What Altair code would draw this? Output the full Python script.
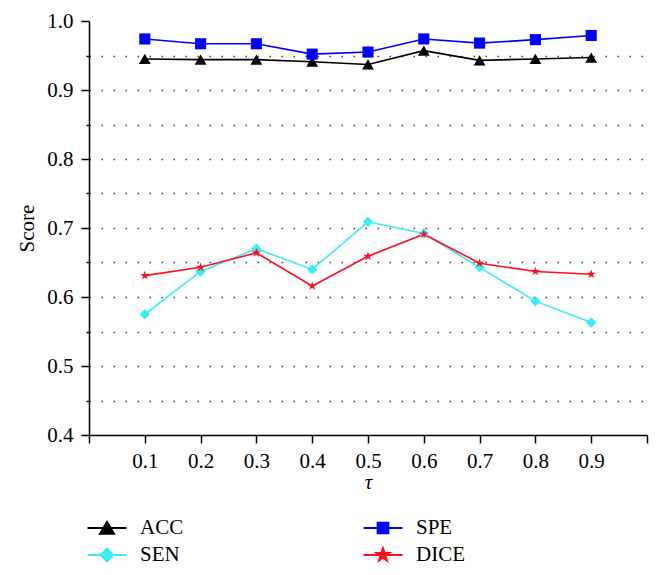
import math
import altair as alt
import pandas as pd

tau = [0.1, 0.2, 0.3, 0.4, 0.5, 0.6, 0.7, 0.8, 0.9]
acc = [0.945, 0.944, 0.944, 0.941, 0.937, 0.957, 0.943, 0.945, 0.947]
spe = [0.974, 0.967, 0.967, 0.952, 0.955, 0.974, 0.968, 0.973, 0.979]
sen = [0.575, 0.637, 0.670, 0.640, 0.709, 0.692, 0.643, 0.594, 0.563]
dice = [0.631, 0.643, 0.664, 0.616, 0.659, 0.691, 0.649, 0.637, 0.633]

series_names = ["ACC", "SPE", "SEN", "DICE"]
series_values = [acc, spe, sen, dice]
colors = ["#000000", "#0000FF", "#38EEF2", "#FF1020"]

x_ticks = [0.0, 0.1, 0.2, 0.3, 0.4, 0.5, 0.6, 0.7, 0.8, 0.9, 1.0]
y_ticks = [0.4, 0.45, 0.5, 0.55, 0.6, 0.65, 0.7, 0.75, 0.8, 0.85, 0.9, 0.95, 1.0]

rows = []
for name, vals in zip(series_names, series_values):
    for t, v in zip(tau, vals):
        rows.append({"tau": t, "score": v, "series": name})
df = pd.DataFrame(rows)


def star_path(r, inner=0.4):
    pts = []
    for i in range(10):
        ang = math.radians(-90 + 36 * i)
        rr = r if i % 2 == 0 else r * inner
        pts.append(f"{rr*math.cos(ang):.3f},{rr*math.sin(ang):.3f}")
    return "M" + "L".join(pts) + "Z"


FONT = "Liberation Serif"

plot_shapes = ["triangle-up", "square", "diamond", star_path(1.0)]
plot_sizes = [140, 90, 160, 180]

LINE = "M-1.39,0H1.39"
legend_shape_of = {
    "ACC": LINE + "M0,-0.43L0.5,0.41L-0.5,0.41Z",
    "SPE": LINE + "M-0.38,-0.38H0.38V0.38H-0.38Z",
    "SEN": LINE + "M0,-0.46L0.45,0L0,0.46L-0.45,0Z",
    "DICE": LINE + star_path(0.48),
}
# legend entries fill column by column
legend_order = ["ACC", "SEN", "SPE", "DICE"]
legend_colors = [colors[series_names.index(n)] for n in legend_order]
legend_shapes = [legend_shape_of[n] for n in legend_order]

x_enc = alt.X(
    "tau:Q",
    scale=alt.Scale(domain=[0, 1], nice=False, zero=False),
    axis=alt.Axis(
        values=x_ticks,
        format=".1f",
        labelExpr="datum.value < 0.05 || datum.value > 0.95 ? '' : datum.label",
        labelOverlap=False,
        tickSize=8,
        tickWidth=1.5,
        tickColor="black",
        domainColor="black",
        domainWidth=1.5,
        grid=False,
        labelFont=FONT,
        labelFontSize=21,
        labelColor="black",
        labelPadding=7,
        title="τ",
        titleFont=FONT,
        titleFontSize=21,
        titleFontStyle="italic",
        titleFontWeight="normal",
        titleColor="black",
        titlePadding=0,
    ),
)

major = "abs(datum.value*10 - round(datum.value*10)) < 0.01"
y_enc = alt.Y(
    "score:Q",
    scale=alt.Scale(domain=[0.4, 1.0], nice=False, zero=False),
    axis=alt.Axis(
        values=y_ticks,
        format=".1f",
        labelExpr=f"{major} ? datum.label : ''",
        labelOverlap=False,
        tickSize={"condition": {"test": major, "value": 8}, "value": 3},
        tickWidth=1.5,
        tickColor="black",
        domainColor="black",
        domainWidth=1.5,
        grid=True,
        gridDash=[1.5, 10.5],
        gridColor="#444444",
        gridWidth=1.3,
        gridOpacity={
            "condition": {"test": "datum.value < 0.42 || datum.value > 0.98", "value": 0},
            "value": 1,
        },
        labelFont=FONT,
        labelFontSize=21,
        labelColor="black",
        labelPadding=8,
        title="Score",
        titleFont=FONT,
        titleFontSize=21,
        titleFontWeight="normal",
        titleColor="black",
        titlePadding=9,
    ),
)

color_scale = alt.Scale(domain=series_names, range=colors)

lines = alt.Chart(df).mark_line(strokeWidth=1.6).encode(
    x=x_enc,
    y=y_enc,
    color=alt.Color("series:N", scale=color_scale, legend=None),
)

points = alt.Chart(df).mark_point(filled=True, opacity=1).encode(
    x=x_enc,
    y=y_enc,
    color=alt.Color("series:N", scale=color_scale, legend=None),
    shape=alt.Shape("series:N", scale=alt.Scale(domain=series_names, range=plot_shapes), legend=None),
    size=alt.Size("series:N", scale=alt.Scale(domain=series_names, range=plot_sizes), legend=None),
)

legend = alt.Legend(
    title=None,
    orient="none",
    legendX=3,
    legendY=492,
    columns=2,
    columnPadding=175,
    rowPadding=2,
    symbolSize=784,
    symbolStrokeWidth=2,
    symbolOpacity=1,
    labelFont=FONT,
    labelFontSize=21,
    labelColor="black",
    labelOffset=18,
    padding=0,
)

legend_layer = alt.Chart(df).mark_point(filled=True, opacity=0, strokeWidth=2).encode(
    x=x_enc,
    y=y_enc,
    color=alt.Color("series:N", scale=alt.Scale(domain=legend_order, range=legend_colors), legend=legend),
    stroke=alt.Stroke("series:N", scale=alt.Scale(domain=legend_order, range=legend_colors), legend=legend),
    shape=alt.Shape("series:N", scale=alt.Scale(domain=legend_order, range=legend_shapes), legend=legend),
)

chart = (
    alt.layer(lines, points, legend_layer)
    .resolve_scale(color="independent", shape="independent", size="independent", stroke="independent")
    .properties(
        width=558,
        height=414,
        autosize=alt.AutoSizeParams(type="none"),
        padding={"left": 81, "top": 13, "right": 7, "bottom": 132},
        background="white",
    )
    .configure_view(stroke=None)
)

chart.save("out.html", embed_options={"renderer": "svg", "actions": False})
